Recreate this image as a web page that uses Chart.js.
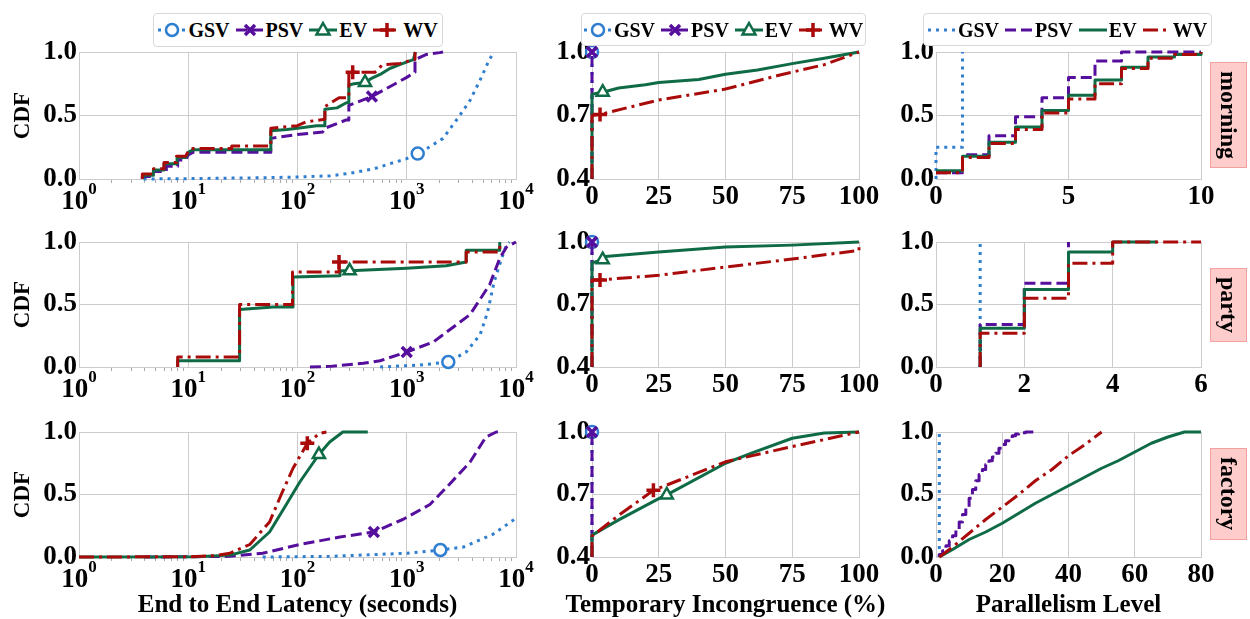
<!DOCTYPE html>
<html>
<head>
<meta charset="utf-8">
<script src="https://cdn.jsdelivr.net/npm/chart.js@4.4.1/dist/chart.umd.min.js"></script>
<style>
  html, body { margin:0; padding:0; background:#fff; }
  body { width:1250px; height:619px; position:relative; overflow:hidden;
         font-family:'Liberation Serif','Times New Roman',serif; }
  canvas { position:absolute; left:0; top:0; }
  .legend { position:absolute; box-sizing:border-box; background:#fff; border:1px solid #d8d8d8;
            border-radius:4px; display:flex; align-items:center; justify-content:center;
            font-weight:bold; font-size:20px; color:#000; }
  .legend .item { display:flex; align-items:center; margin:0 3px; }
  .legend .item span { margin-left:2px; line-height:1; }
  .rowlab { position:absolute; box-sizing:border-box; background:#ffcccc; border:1px solid #f2a0a0;
            writing-mode:vertical-rl; display:flex; align-items:center; justify-content:center;
            font-weight:bold; font-size:24px; color:#000; line-height:1; }
  .xtitle { position:absolute; font-weight:bold; font-size:25px; line-height:25px; color:#000;
            white-space:nowrap; transform:translateX(-50%); }
</style>
</head>
<body>
<script>
// ---------------- data ----------------
const SERIES = ['GSV', 'PSV', 'EV', 'WV'];
const ROW_NAMES = ['morning', 'party', 'factory'];

// End to end latency (seconds), CDF  [x, cdf]
const latMorningGSV = [[3.9,0],[10,0.003],[30,0.008],[50,0.01],[100,0.016],[200,0.025],[300,0.045],[500,0.08],[700,0.12],[1000,0.16],[1260,0.2],[1600,0.25],[2150,0.32],[3000,0.49],[3800,0.62],[4700,0.78],[5700,0.94],[6300,1.0]];
const latMorningPSV = [[3.8,0],[3.8,0.02],[4.8,0.02],[4.8,0.06],[6.3,0.06],[6.3,0.1],[8,0.1],[8,0.15],[9.5,0.15],[10,0.19],[11,0.21],[57,0.21],[57,0.32],[100,0.35],[170,0.37],[178,0.4],[280,0.465],[295,0.465],[295,0.58],[480,0.65],[1000,0.8],[1190,0.84],[1190,0.94],[1500,0.98],[2000,0.995],[2150,1.0]];
const latMorningEV  = [[3.85,0],[3.85,0.03],[4.8,0.03],[4.8,0.07],[6,0.07],[6,0.12],[7.9,0.12],[7.9,0.17],[9.5,0.17],[10,0.21],[11,0.23],[57,0.23],[57,0.38],[80,0.39],[100,0.4],[150,0.42],[178,0.42],[178,0.55],[230,0.56],[280,0.6],[295,0.6],[295,0.74],[330,0.75],[415,0.76],[470,0.79],[590,0.83],[700,0.87],[860,0.9],[1150,0.94],[1200,1.0]];
const latMorningWV  = [[3.8,0],[3.8,0.04],[4.8,0.04],[4.8,0.08],[6,0.08],[6,0.13],[7.8,0.13],[7.8,0.18],[9.5,0.18],[10,0.22],[11,0.24],[25,0.24],[25,0.26],[57,0.26],[57,0.4],[100,0.42],[120,0.45],[178,0.47],[178,0.57],[240,0.64],[295,0.64],[295,0.84],[320,0.84],[510,0.84],[600,0.9],[870,0.91],[1150,0.94],[1190,0.94],[1190,1.0]];
const latMorningMarkIdx = [10, 19, 23, 22];

const latPartyGSV = [[570,0],[1320,0.015],[2400,0.04],[3500,0.12],[4700,0.26],[5500,0.44],[6300,0.68],[7400,0.87],[8200,0.98],[8700,1.0]];
const latPartyPSV = [[130,0],[200,0.005],[400,0.03],[570,0.05],[1000,0.12],[1750,0.2],[3800,0.42],[5750,0.66],[7100,0.87],[8200,0.96],[10000,1.0]];
const latPartyEV  = [[8,0],[8,0.05],[29.5,0.05],[29.5,0.46],[60,0.48],[91,0.48],[91,0.72],[245,0.73],[245,0.77],[300,0.77],[1000,0.79],[2300,0.81],[3500,0.84],[3500,0.935],[7100,0.935],[7100,1.0]];
const latPartyWV  = [[8,0],[8,0.08],[29.5,0.08],[29.5,0.5],[90,0.5],[90,0.76],[240,0.76],[240,0.84],[3500,0.84],[3500,0.92],[7100,0.92],[7100,1.0]];
const latPartyMarkIdx = [2, 4, 9, 7];

const latFactoryGSV = [[48,0],[197,0.005],[1000,0.03],[2030,0.056],[3300,0.08],[6100,0.18],[10000,0.31]];
const latFactoryPSV = [[4,0],[24,0.005],[48,0.03],[105,0.1],[245,0.16],[500,0.2],[920,0.3],[1630,0.42],[2450,0.58],[3800,0.76],[5300,0.96],[6600,1.0],[7000,1.0]];
const latFactoryEV  = [[1,0],[12,0.002],[24,0.015],[36.6,0.056],[55.5,0.2],[79,0.42],[105,0.6],[157,0.82],[197,0.92],[260,1.0],[440,1.0]];
const latFactoryWV  = [[1,0],[10,0.002],[17,0.01],[24,0.03],[36.6,0.1],[55.5,0.28],[71,0.5],[91,0.71],[123,0.91],[160,0.99],[184,1.0]];
const latFactoryMarkIdx = [3, 5, 7, 8];

// Temporary incongruence (%), CDF
const incMorningGSV = [[0,0.4],[0,1.0]];
const incMorningPSV = [[0,0.4],[0,1.0]];
const incMorningEV  = [[0,0.4],[0,0.8],[4,0.81],[10,0.83],[20,0.845],[25,0.856],[40,0.87],[50,0.895],[62,0.915],[75,0.945],[87,0.97],[100,1.0]];
const incMorningWV  = [[0,0.4],[0,0.7],[3,0.705],[25,0.773],[50,0.825],[70,0.89],[75,0.905],[87,0.94],[100,1.0]];
const incMorningMarkIdx = [1, 1, 2, 2];

const incPartyGSV = [[0,0.4],[0,1.0]];
const incPartyPSV = [[0,0.4],[0,1.0]];
const incPartyEV  = [[0,0.4],[0,0.9],[4,0.915],[5,0.93],[25,0.952],[50,0.976],[75,0.985],[100,1.0]];
const incPartyWV  = [[0,0.4],[0,0.818],[3,0.818],[25,0.84],[50,0.88],[75,0.918],[100,0.96],[100,1.0]];
const incPartyMarkIdx = [1, 1, 2, 2];

const incFactoryGSV = [[0,0.4],[0,1.0]];
const incFactoryPSV = [[0,0.4],[0,1.0]];
const incFactoryEV  = [[0,0.4],[0,0.505],[10,0.578],[25,0.68],[28,0.698],[50,0.85],[60,0.9],[75,0.97],[87,0.995],[100,1.0]];
const incFactoryWV  = [[0,0.4],[0,0.5],[10,0.6],[23,0.72],[25,0.73],[50,0.857],[75,0.93],[100,1.0]];
const incFactoryMarkIdx = [1, 1, 4, 3];

// Parallelism level, CDF (step series: value holds until next level)
const parMorningGSV = [[0,0],[0,0.25],[1,1.0]];
const parMorningPSV = [[0,0.05],[1,0.19],[2,0.34],[3,0.49],[4,0.64],[5,0.8],[6,0.93],[7,1.0],[10,1.0]];
const parMorningEV  = [[0,0.065],[1,0.18],[2,0.29],[3,0.41],[4,0.54],[5,0.66],[6,0.78],[7,0.88],[8,0.96],[9,0.98],[10,1.0]];
const parMorningWV  = [[0,0.05],[1,0.17],[2,0.28],[3,0.39],[4,0.52],[5,0.63],[6,0.75],[7,0.87],[8,0.95],[9,0.98],[10,1.0]];

const parPartyGSV = [[1,0],[1,1.0]];
const parPartyPSV = [[1,0],[1,0.34],[2,0.67],[3,1.0]];
const parPartyEV  = [[1,0],[1,0.31],[2,0.62],[3,0.92],[4,1.0],[5,1.0]];
const parPartyWV  = [[1,0],[1,0.27],[2,0.55],[3,0.83],[4,1.0],[6,1.0]];

const parFactoryGSV = [[1,0],[1,1.0]];
const parFactoryPSV = [[1,0],[1,0.02],[2,0.05],[3,0.09],[4,0.13],[5,0.17],[6,0.22],[7,0.28],[8,0.34],[9,0.4],[10,0.47],[11,0.54],[12,0.61],[13,0.66],[14,0.7],[15,0.74],[16,0.77],[17,0.8],[18,0.83],[19,0.87],[20,0.9],[21,0.93],[22,0.95],[23,0.97],[24,0.985],[25,0.99],[26,0.995],[27,1.0],[30,1.0]];
const parFactoryEV  = [[1,0],[5,0.06],[10,0.14],[15,0.2],[20,0.27],[25,0.35],[30,0.43],[35,0.5],[40,0.57],[45,0.64],[50,0.71],[55,0.77],[60,0.84],[65,0.91],[70,0.96],[75,1.0],[80,1.0]];
const parFactoryWV  = [[1,0],[5,0.08],[10,0.19],[15,0.3],[20,0.4],[25,0.5],[30,0.61],[35,0.7],[40,0.81],[45,0.9],[50,1.0]];

// tick values and labels
const LAT_TICKS = [1, 10, 100, 1000, 10000];
const LAT_TICK_BASE = '10';
const LAT_TICK_EXP = ['0', '1', '2', '3', '4'];
const INC_X_TICKS = [0, 25, 50, 75, 100];
const INC_Y_TICKS = [0.4, 0.7, 1.0];
const INC_Y_LABELS = ['0.4', '0.7', '1.0'];
const CDF_TICKS = [0, 0.5, 1.0];
const CDF_LABELS = ['0.0', '0.5', '1.0'];
const PAR_TICKS = [[0, 5, 10], [0, 2, 4, 6], [0, 20, 40, 60, 80]];
const X_TITLES = ['End to End Latency (seconds)', 'Temporary Incongruence (%)', 'Parallelism Level'];

// ---------------- styles / layout ----------------
const W = 1250, H = 619;
const COLORS = ['#2f7ed0', '#560f9c', '#0f6b46', '#a90b0b'];
const DASHES = [[3, 5], [11, 5], [], [15, 5, 3, 5]];
const MARKER_STYLES = ['circle', 'crossRot', 'triangle', 'cross'];
const MARKER_R = [6, 7, 7, 7];
const MARKER_BW = [2.5, 3.5, 2.5, 3.5];
const GRID = '#cccccc';
const COLS = [{ left: 79, right: 516 }, { left: 592, right: 859 }, { left: 936, right: 1201 }];
const ROWS = [{ top: 52, bottom: 179 }, { top: 242, bottom: 367 }, { top: 432, bottom: 557 }];
const FONT_FAMILY = "'Liberation Serif','Times New Roman',serif";
const TICK_SIZE = 27;

Chart.defaults.font.family = FONT_FAMILY;

function latMinorTicks() {
  const t = [];
  for (let d = 1; d < 10000; d *= 10) for (let k = 1; k < 10; k++) t.push(d * k);
  t.push(10000);
  return t;
}

// draws the 10^k labels of the logarithmic axis (base + raised exponent)
const logLabelPlugin = {
  id: 'logLabels',
  afterDraw(chart, args, opts) {
    if (!opts || !opts.enabled) return;
    const s = chart.scales.x, ctx = chart.ctx;
    const baseFont = `bold ${TICK_SIZE}px ${FONT_FAMILY}`;
    const expFont = `bold 17px ${FONT_FAMILY}`;
    ctx.save();
    ctx.fillStyle = '#000';
    ctx.textBaseline = 'alphabetic';
    ctx.textAlign = 'left';
    LAT_TICKS.forEach((v, k) => {
      const px = s.getPixelForValue(v);
      ctx.font = baseFont; const wb = ctx.measureText(LAT_TICK_BASE).width;
      ctx.font = expFont; const we = ctx.measureText(LAT_TICK_EXP[k]).width;
      const x0 = px - (wb + we) / 2;
      ctx.font = baseFont; ctx.fillText(LAT_TICK_BASE, x0, s.top + 30);
      ctx.font = expFont; ctx.fillText(LAT_TICK_EXP[k], x0 + wb, s.top + 15);
    });
    ctx.restore();
  }
};

function panel(p) {
  const cv = document.createElement('canvas');
  cv.width = W; cv.height = H;
  document.body.appendChild(cv);
  const col = COLS[p.col], row = ROWS[p.row];
  const yW = p.col === 0 ? 72 : 60;
  const xH = 30;
  const isLog = p.col === 0;
  const datasets = SERIES.map((name, i) => ({
    label: name,
    data: p.series[i].map(([x, y]) => ({ x, y })),
    borderColor: COLORS[i],
    borderWidth: 3,
    borderDash: DASHES[i],
    borderCapStyle: 'butt',
    borderJoinStyle: 'round',
    fill: false,
    tension: 0,
    stepped: p.stepped ? p.stepped[i] : false,
    pointStyle: MARKER_STYLES[i],
    pointRadius: c => (p.marks && c.dataIndex === p.marks[i]) ? MARKER_R[i] : 0,
    pointHoverRadius: 0,
    pointBorderWidth: MARKER_BW[i],
    pointBorderColor: COLORS[i],
    pointBackgroundColor: '#ffffff',
    order: 4 - i,
    clip: false
  }));
  const isMajorVal = v => p.xMajor.includes(v);
  new Chart(cv, {
    type: 'line',
    data: { datasets },
    plugins: [logLabelPlugin],
    options: {
      responsive: false, animation: false, devicePixelRatio: 1,
      events: [],
      layout: { padding: { left: col.left - yW, right: W - col.right, top: row.top, bottom: H - row.bottom - xH } },
      plugins: { legend: { display: false }, tooltip: { enabled: false }, logLabels: { enabled: isLog } },
      scales: {
        x: {
          type: isLog ? 'logarithmic' : 'linear',
          min: p.xMin, max: p.xMax,
          afterBuildTicks: s => { s.ticks = p.xTicks.map(v => ({ value: v, major: isMajorVal(v) })); },
          afterFit: s => { s.height = xH; },
          ticks: {
            autoSkip: false, maxRotation: 0, minRotation: 0,
            padding: 2, color: '#000',
            font: { family: FONT_FAMILY, size: TICK_SIZE, weight: 'bold' },
            callback: v => { if (isLog) return ''; const k = p.xMajor.indexOf(v); return k >= 0 ? p.xLabels[k] : ''; }
          },
          grid: {
            drawTicks: isLog, tickLength: 4, lineWidth: 1,
            color: c => (c.tick && isMajorVal(c.tick.value)) ? GRID : 'rgba(0,0,0,0)',
            tickColor: c => (c.tick && isMajorVal(c.tick.value)) ? 'rgba(0,0,0,0)' : '#aaaaaa'
          },
          border: { color: GRID, width: 1 }
        },
        y: {
          type: 'linear', min: p.yMin, max: p.yMax,
          afterBuildTicks: s => { s.ticks = p.yTicks.map(v => ({ value: v })); },
          afterFit: s => { s.width = yW; },
          ticks: {
            padding: 2, color: '#000',
            font: { family: FONT_FAMILY, size: TICK_SIZE, weight: 'bold' },
            callback: v => { const k = p.yTicks.indexOf(v); return k >= 0 ? p.yLabels[k] : ''; }
          },
          grid: { drawTicks: false, color: GRID, lineWidth: 1 },
          border: { color: GRID, width: 1 },
          title: p.col === 0 ? {
            display: true, text: 'CDF', color: '#000',
            font: { family: FONT_FAMILY, size: 23, weight: 'bold', lineHeight: 1 },
            padding: { top: 5, bottom: 0 }
          } : { display: false }
        }
      }
    }
  });
}

const latSeries = [
  [latMorningGSV, latMorningPSV, latMorningEV, latMorningWV],
  [latPartyGSV, latPartyPSV, latPartyEV, latPartyWV],
  [latFactoryGSV, latFactoryPSV, latFactoryEV, latFactoryWV]
];
const latMarks = [latMorningMarkIdx, latPartyMarkIdx, latFactoryMarkIdx];
const incSeries = [
  [incMorningGSV, incMorningPSV, incMorningEV, incMorningWV],
  [incPartyGSV, incPartyPSV, incPartyEV, incPartyWV],
  [incFactoryGSV, incFactoryPSV, incFactoryEV, incFactoryWV]
];
const incMarks = [incMorningMarkIdx, incPartyMarkIdx, incFactoryMarkIdx];
const parSeries = [
  [parMorningGSV, parMorningPSV, parMorningEV, parMorningWV],
  [parPartyGSV, parPartyPSV, parPartyEV, parPartyWV],
  [parFactoryGSV, parFactoryPSV, parFactoryEV, parFactoryWV]
];
const parStepped = [
  ['before', 'before', 'before', 'before'],
  ['before', 'before', 'before', 'before'],
  ['before', 'before', false, false]
];

for (let r = 0; r < 3; r++) {
  panel({ col: 0, row: r, series: latSeries[r], marks: latMarks[r],
    xMin: 1, xMax: 10000, xTicks: latMinorTicks(), xMajor: LAT_TICKS, xLabels: [],
    yMin: 0, yMax: 1, yTicks: CDF_TICKS, yLabels: CDF_LABELS });
  panel({ col: 1, row: r, series: incSeries[r], marks: incMarks[r],
    xMin: 0, xMax: 100, xTicks: INC_X_TICKS, xMajor: INC_X_TICKS, xLabels: INC_X_TICKS.map(String),
    yMin: 0.4, yMax: 1, yTicks: INC_Y_TICKS, yLabels: INC_Y_LABELS });
  const pt = PAR_TICKS[r];
  panel({ col: 2, row: r, series: parSeries[r], marks: null, stepped: parStepped[r],
    xMin: pt[0], xMax: pt[pt.length - 1], xTicks: pt, xMajor: pt, xLabels: pt.map(String),
    yMin: 0, yMax: 1, yTicks: CDF_TICKS, yLabels: CDF_LABELS });
}

// ---------------- x axis titles ----------------
X_TITLES.forEach((t, c) => {
  const d = document.createElement('div');
  d.className = 'xtitle';
  d.style.left = ((COLS[c].left + COLS[c].right) / 2) + 'px';
  d.style.top = '591px';
  d.textContent = t;
  document.body.appendChild(d);
});

// ---------------- legends ----------------
function sampleSVG(i, withMarker) {
  const w = 28, h = 20, c = COLORS[i];
  const dash = DASHES[i].length ? `stroke-dasharray="${DASHES[i].join(' ')}"` : '';
  let m = '';
  if (withMarker) {
    const cx = w / 2, cy = h / 2;
    if (i === 0) m = `<circle cx="${cx}" cy="${cy}" r="6" fill="#fff" stroke="${c}" stroke-width="2.5"/>`;
    if (i === 1) m = `<path d="M${cx-5} ${cy-5}L${cx+5} ${cy+5}M${cx+5} ${cy-5}L${cx-5} ${cy+5}" stroke="${c}" stroke-width="3.5"/>`;
    if (i === 2) m = `<path d="M${cx} ${cy-7}L${cx+6.5} ${cy+4.5}L${cx-6.5} ${cy+4.5}Z" fill="#fff" stroke="${c}" stroke-width="2.5"/>`;
    if (i === 3) m = `<path d="M${cx-7} ${cy}L${cx+7} ${cy}M${cx} ${cy-7}L${cx} ${cy+7}" stroke="${c}" stroke-width="3.5"/>`;
  }
  return `<svg width="${w}" height="${h}" viewBox="0 0 ${w} ${h}"><line x1="0" y1="${h/2}" x2="${w}" y2="${h/2}" stroke="${c}" stroke-width="3" ${dash}/>${m}</svg>`;
}
function legend(left, top, width, height, withMarkers) {
  const d = document.createElement('div');
  d.className = 'legend';
  d.style.left = left + 'px'; d.style.top = top + 'px';
  d.style.width = width + 'px'; d.style.height = height + 'px';
  d.innerHTML = SERIES.map((s, i) => `<div class="item">${sampleSVG(i, withMarkers)}<span>${s}</span></div>`).join('');
  document.body.appendChild(d);
}
legend(153, 13, 290, 34, true);
legend(581, 13, 285, 33, true);
legend(923, 13, 289, 33, false);

// ---------------- row labels ----------------
const ROW_LABEL_BOXES = [[62, 106], [268, 74], [448, 92]];
ROW_NAMES.forEach((n, r) => {
  const d = document.createElement('div');
  d.className = 'rowlab';
  d.style.left = '1210px'; d.style.top = ROW_LABEL_BOXES[r][0] + 'px';
  d.style.width = '37px'; d.style.height = ROW_LABEL_BOXES[r][1] + 'px';
  d.textContent = n;
  document.body.appendChild(d);
});
</script>
</body>
</html>
